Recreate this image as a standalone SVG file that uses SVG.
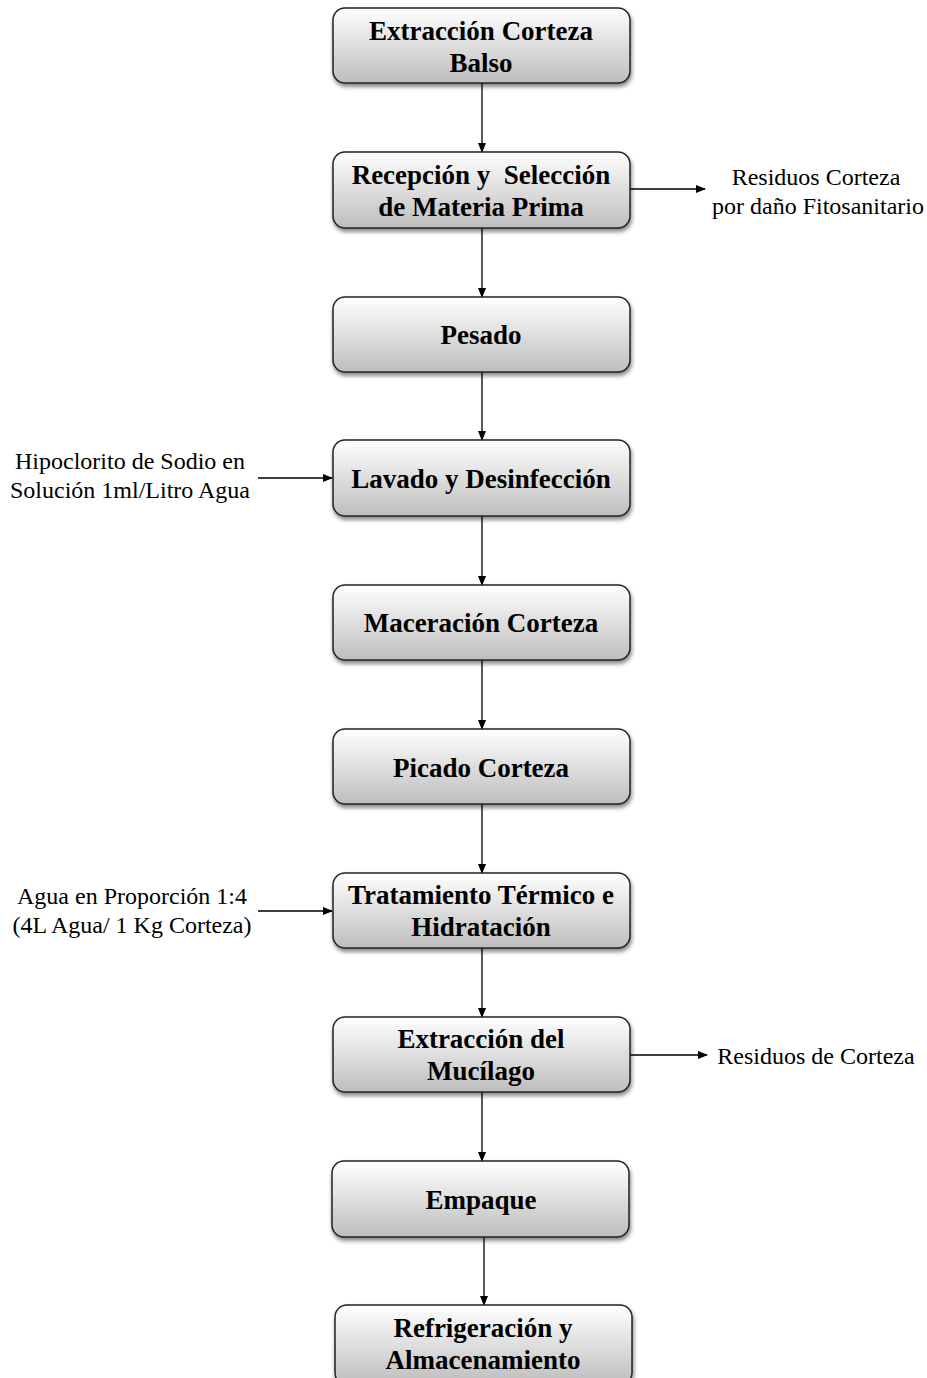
<svg xmlns="http://www.w3.org/2000/svg" width="927" height="1378" viewBox="0 0 927 1378">
<defs>
<linearGradient id="g" x1="0" y1="0" x2="0" y2="1">
<stop offset="0" stop-color="#ffffff"/>
<stop offset="1" stop-color="#bdbdbd"/>
</linearGradient>
<filter id="sh" x="-10%" y="-20%" width="120%" height="150%">
<feGaussianBlur in="SourceAlpha" stdDeviation="2"/>
<feOffset dx="1" dy="3" result="b"/>
<feComponentTransfer><feFuncA type="linear" slope="0.5"/></feComponentTransfer>
<feMerge><feMergeNode/><feMergeNode in="SourceGraphic"/></feMerge>
</filter>
<marker id="ah" markerWidth="10" markerHeight="8" refX="9" refY="4" orient="auto" markerUnits="userSpaceOnUse">
<path d="M0,0 L10,4 L0,8 Z" fill="#000"/>
</marker>
</defs>
<style>
.box{fill:url(#g);stroke:#222;stroke-width:1.5;filter:url(#sh)}
.t{font-family:"Liberation Serif","Times New Roman",serif;font-weight:bold;font-size:27px;text-anchor:middle;fill:#000;white-space:pre}
.s{font-family:"Liberation Serif","Times New Roman",serif;font-size:24px;text-anchor:middle;fill:#000}
.c{stroke:#000;stroke-width:1.3;fill:none;marker-end:url(#ah)}
</style>
<rect width="927" height="1378" fill="#fff"/>
<g id="connectors">
<line class="c" x1="482" y1="83" x2="482" y2="152"/>
<line class="c" x1="482" y1="228" x2="482" y2="297"/>
<line class="c" x1="482" y1="372" x2="482" y2="440"/>
<line class="c" x1="482" y1="516" x2="482" y2="585"/>
<line class="c" x1="482" y1="660" x2="482" y2="729"/>
<line class="c" x1="482" y1="804" x2="482" y2="873"/>
<line class="c" x1="482" y1="948" x2="482" y2="1017"/>
<line class="c" x1="482" y1="1092" x2="482" y2="1161"/>
<line class="c" x1="484" y1="1237" x2="484" y2="1305"/>
<line class="c" x1="630" y1="189" x2="705" y2="189"/>
<line class="c" x1="258" y1="478" x2="332" y2="478"/>
<line class="c" x1="258" y1="911" x2="332" y2="911"/>
<line class="c" x1="630" y1="1055" x2="707" y2="1055"/>
</g>
<g id="n1"><rect class="box" x="333" y="8" width="297" height="75" rx="12"/>
<text class="t" x="481" y="40">Extracción Corteza</text><text class="t" x="481" y="72">Balso</text></g>
<g id="n2"><rect class="box" x="333" y="152" width="297" height="76" rx="12"/>
<text class="t" x="481" y="184" xml:space="preserve">Recepción y  Selección</text><text class="t" x="481" y="216">de Materia Prima</text></g>
<g id="n3"><rect class="box" x="333" y="297" width="297" height="75" rx="12"/>
<text class="t" x="481" y="344">Pesado</text></g>
<g id="n4"><rect class="box" x="333" y="440" width="297" height="76" rx="12"/>
<text class="t" x="481" y="488">Lavado y Desinfección</text></g>
<g id="n5"><rect class="box" x="333" y="585" width="297" height="75" rx="12"/>
<text class="t" x="481" y="632">Maceración Corteza</text></g>
<g id="n6"><rect class="box" x="333" y="729" width="297" height="75" rx="12"/>
<text class="t" x="481" y="777">Picado Corteza</text></g>
<g id="n7"><rect class="box" x="333" y="873" width="297" height="75" rx="12"/>
<text class="t" x="481" y="904">Tratamiento Térmico e</text><text class="t" x="481" y="936">Hidratación</text></g>
<g id="n8"><rect class="box" x="333" y="1017" width="297" height="75" rx="12"/>
<text class="t" x="481" y="1048">Extracción del</text><text class="t" x="481" y="1080">Mucílago</text></g>
<g id="n9"><rect class="box" x="332" y="1161" width="297" height="76" rx="12"/>
<text class="t" x="481" y="1209">Empaque</text></g>
<g id="n10"><rect class="box" x="335" y="1305" width="297" height="80" rx="12"/>
<text class="t" x="483" y="1337">Refrigeración y</text><text class="t" x="483" y="1369">Almacenamiento</text></g>
<g id="l1"><text class="s" x="816" y="185">Residuos Corteza</text><text class="s" x="818" y="214">por daño Fitosanitario</text></g>
<g id="l2"><text class="s" x="130" y="469">Hipoclorito de Sodio en</text><text class="s" x="130" y="498">Solución 1ml/Litro Agua</text></g>
<g id="l3"><text class="s" x="132" y="904">Agua en Proporción 1:4</text><text class="s" x="132" y="933">(4L Agua/ 1 Kg Corteza)</text></g>
<g id="l4"><text class="s" x="816" y="1064">Residuos de Corteza</text></g>
</svg>
